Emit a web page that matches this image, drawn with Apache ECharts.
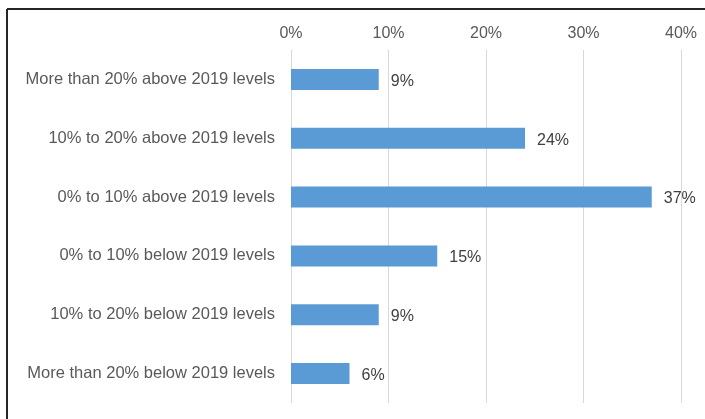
<!DOCTYPE html>
<html>
<head>
<meta charset="utf-8">
<style>
  html, body { margin: 0; padding: 0; background: #ffffff; }
  #chart { width: 705px; height: 419px; }
</style>
<script src="https://cdn.jsdelivr.net/npm/echarts@6/dist/echarts.min.js"></script>
</head>
<body>
<div id="chart"></div>
<script>
// Share of respondents by expected level relative to 2019
const categories = [
  'More than 20% above 2019 levels',
  '10% to 20% above 2019 levels',
  '0% to 10% above 2019 levels',
  '0% to 10% below 2019 levels',
  '10% to 20% below 2019 levels',
  'More than 20% below 2019 levels'
];
const shares = [9, 24, 37, 15, 9, 6];
const axisMin = 0;
const axisMax = 40;
const axisStep = 10;

const fontFamily = "'Liberation Sans', Arial, sans-serif";
const chart = echarts.init(document.getElementById('chart'), null, { renderer: 'canvas' });

chart.setOption({
  backgroundColor: '#ffffff',
  animation: false,
  grid: { left: 291, right: 24, top: 50, bottom: 16, containLabel: false },
  xAxis: {
    type: 'value',
    position: 'top',
    min: axisMin,
    max: axisMax,
    interval: axisStep,
    axisLine: { show: false },
    axisTick: { show: false },
    axisLabel: {
      formatter: '{value}%',
      color: '#595959',
      fontSize: 16,
      fontFamily: fontFamily,
      margin: 8
    },
    splitLine: { show: true, lineStyle: { color: '#d9d9d9', width: 1 } }
  },
  yAxis: {
    type: 'category',
    data: categories,
    inverse: true,
    axisLine: { show: false },
    axisTick: { show: false },
    axisLabel: {
      color: '#595959',
      fontSize: 16.5,
      fontFamily: fontFamily,
      margin: 16,
      padding: [4, 0, 0, 0]
    }
  },
  series: [{
    type: 'bar',
    data: shares,
    barWidth: 21,
    itemStyle: { color: '#5b9bd5' },
    label: {
      show: true,
      position: 'right',
      distance: 12,
      offset: [0, 2],
      formatter: '{c}%',
      color: '#404040',
      fontSize: 16,
      fontFamily: fontFamily
    }
  }],
  graphic: [
    { type: 'line', shape: { x1: 7, y1: 9, x2: 705, y2: 9 }, style: { stroke: '#262626', lineWidth: 2 } },
    { type: 'line', shape: { x1: 7, y1: 9, x2: 7, y2: 419 }, style: { stroke: '#262626', lineWidth: 2 } }
  ]
});
</script>
</body>
</html>
